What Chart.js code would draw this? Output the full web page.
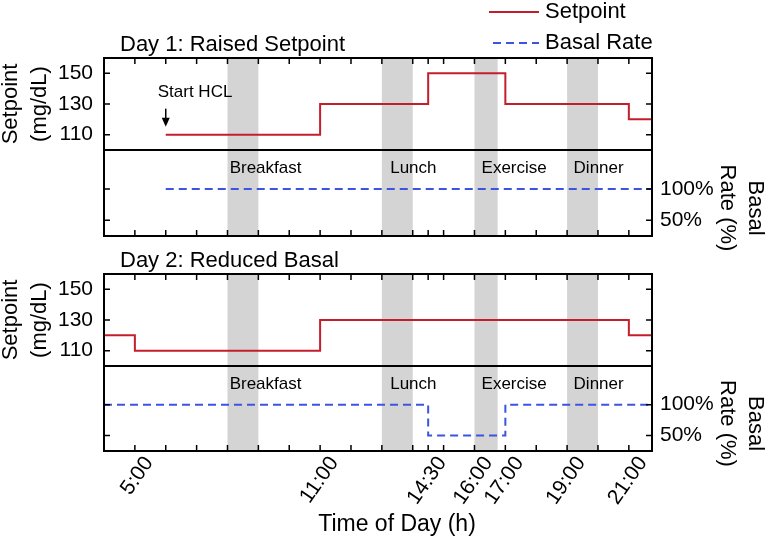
<!DOCTYPE html>
<html><head><meta charset="utf-8">
<script src="https://cdn.jsdelivr.net/npm/chart.js@4/dist/chart.umd.min.js"></script>
<style>html,body{margin:0;padding:0;background:#fff}canvas{display:block}</style>
</head><body>
<canvas id="c" width="771" height="544"></canvas>
<script>
// ---------- data ----------
const xMin = 4, xMax = 21.75;
const xTickValues = [5, 11, 14.5, 16, 17, 19, 21];
const xTickLabels = ['5:00', '11:00', '14:30', '16:00', '17:00', '19:00', '21:00'];
const setTickValues = [110, 130, 150];
const basalTickValues = [50, 100];
const basalTickLabels = ['50%', '100%'];

const day1SetTimes = [6, 11, 14.5, 17, 21, 21.75];
const day1SetValues = [110, 130, 150, 130, 120, 120];
const day1BasalTimes = [6, 21.75];
const day1BasalValues = [100, 100];

const day2SetTimes = [4, 5, 11, 21, 21.75];
const day2SetValues = [120, 110, 130, 120, 120];
const day2BasalTimes = [4, 14.5, 17, 21.75];
const day2BasalValues = [100, 50, 100, 100];

const eventNames = ['Breakfast', 'Lunch', 'Exercise', 'Dinner'];
const eventStart = [8, 13, 16, 19];
const eventEnd = [9, 14, 16.75, 20];
const eventLabelTime = [8.07, 13.27, 16.23, 19.21];

const hclStart = 6, hclValue = 110;
const dayTitles = ['Day 1: Raised Setpoint', 'Day 2: Reduced Basal'];
const xTitle = 'Time of Day (h)';

// ---------- style ----------
const FONT = "'Liberation Sans', Arial, Helvetica, sans-serif";
const RED = '#c41e2c';
const BLUE = '#3b55e0';
const GRAY = '#d4d4d4';

const pts = (xs, ys) => xs.map((x, i) => ({x, y: ys[i]}));

const minorTicks = [];
for (let h = 5; h <= 21; h++) minorTicks.push(h);
xTickValues.forEach(v => { if (!minorTicks.includes(v)) minorTicks.push(v); });

const days = [
  {set: 'ySet1', bas: 'yBas1', title: dayTitles[0]},
  {set: 'ySet2', bas: 'yBas2', title: dayTitles[1]}
];

const panelPlugin = {
  id: 'panels',
  beforeDatasetsDraw(chart) {
    const {ctx} = chart;
    const x = chart.scales.x;
    ctx.save();
    ctx.fillStyle = GRAY;
    for (const d of days) {
      const top = chart.scales[d.set].top, bottom = chart.scales[d.bas].bottom;
      for (let i = 0; i < eventStart.length; i++) {
        const x0 = x.getPixelForValue(eventStart[i]);
        const x1 = x.getPixelForValue(eventEnd[i]);
        ctx.fillRect(x0, top, x1 - x0, bottom - top);
      }
    }
    ctx.fillStyle = '#000';
    ctx.font = `17px ${FONT}`;
    ctx.textBaseline = 'middle';
    ctx.textAlign = 'left';
    for (const d of days) {
      const y = chart.scales[d.bas].top + 18;
      eventNames.forEach((n, i) => ctx.fillText(n, x.getPixelForValue(eventLabelTime[i]), y));
    }
    ctx.restore();
  },
  afterDatasetsDraw(chart) {
    const {ctx, chartArea} = chart;
    const x = chart.scales.x;
    const L = chartArea.left, R = chartArea.right;
    const TL = 6;
    ctx.save();
    ctx.strokeStyle = '#000';
    for (const d of days) {
      const ys = chart.scales[d.set], yb = chart.scales[d.bas];
      const top = ys.top, mid = ys.bottom, bottom = yb.bottom;
      ctx.lineWidth = 2;
      ctx.strokeRect(L, top, R - L, bottom - top);
      ctx.beginPath(); ctx.moveTo(L, mid); ctx.lineTo(R, mid); ctx.stroke();
      ctx.lineWidth = 1.5;
      ctx.beginPath();
      for (const t of minorTicks) {
        const px = x.getPixelForValue(t);
        ctx.moveTo(px, top); ctx.lineTo(px, top + TL);
        ctx.moveTo(px, bottom); ctx.lineTo(px, bottom - TL);
      }
      for (const v of setTickValues) {
        const py = ys.getPixelForValue(v);
        ctx.moveTo(L, py); ctx.lineTo(L + TL, py);
        ctx.moveTo(R, py); ctx.lineTo(R - TL, py);
      }
      for (const v of basalTickValues) {
        const py = yb.getPixelForValue(v);
        ctx.moveTo(L, py); ctx.lineTo(L + TL, py);
        ctx.moveTo(R, py); ctx.lineTo(R - TL, py);
      }
      ctx.stroke();

      // day title
      ctx.fillStyle = '#000';
      ctx.font = `22px ${FONT}`;
      ctx.textAlign = 'left';
      ctx.textBaseline = 'alphabetic';
      ctx.fillText(d.title, L + 16, top - 7.5);

      // right axis title
      const cy = (yb.top + yb.bottom) / 2 + 15;
      ctx.save();
      ctx.translate(R + 103.5, cy);
      ctx.rotate(Math.PI / 2);
      ctx.textAlign = 'center';
      ctx.textBaseline = 'middle';
      ctx.fillText('Basal', 0, 0);
      ctx.fillText('Rate (%)', 0, 28.5);
      ctx.restore();
    }

    // x axis title
    ctx.font = `23px ${FONT}`;
    ctx.textAlign = 'center';
    ctx.textBaseline = 'middle';
    ctx.fillText(xTitle, (L + R) / 2 + 19, chartArea.bottom + 74);

    // Start HCL annotation
    const ys1 = chart.scales.ySet1;
    const ax = x.getPixelForValue(hclStart);
    const ay = ys1.getPixelForValue(hclValue);
    ctx.fillStyle = '#000';
    ctx.font = `17px ${FONT}`;
    ctx.textAlign = 'left';
    ctx.textBaseline = 'alphabetic';
    ctx.fillText('Start HCL', ax - 8, ay - 38);
    ctx.lineWidth = 1.5;
    ctx.beginPath(); ctx.moveTo(ax, ay - 26); ctx.lineTo(ax, ay - 14); ctx.stroke();
    ctx.beginPath();
    ctx.moveTo(ax, ay - 8); ctx.lineTo(ax - 4, ay - 17); ctx.lineTo(ax + 4, ay - 17);
    ctx.closePath(); ctx.fill();

    // legend
    const lx0 = 489, lx1 = 539;
    ctx.lineWidth = 2;
    ctx.strokeStyle = RED;
    ctx.beginPath(); ctx.moveTo(lx0, 12); ctx.lineTo(lx1, 12); ctx.stroke();
    ctx.strokeStyle = BLUE;
    ctx.setLineDash([8, 5]);
    ctx.beginPath(); ctx.moveTo(lx0 + 4, 43); ctx.lineTo(lx1, 43); ctx.stroke();
    ctx.setLineDash([]);
    ctx.fillStyle = '#000';
    ctx.font = `22px ${FONT}`;
    ctx.textBaseline = 'middle';
    ctx.fillText('Setpoint', 545, 12);
    ctx.fillText('Basal Rate', 545, 43);
    ctx.restore();
  }
};

const tickFont = {family: FONT, size: 21};
const hideTicks = {display: false};
const noGrid = {display: false, drawTicks: false};
function yScale(position, stack, stackWeight, weight, min, max, extra) {
  return Object.assign({
    type: 'linear', position, stack, stackWeight, weight, min, max,
    grid: noGrid, border: {display: false},
    ticks: hideTicks,
    afterFit: s => { s.width = position === 'left' ? 104 : 119; }
  }, extra || {});
}
const setLabelAxis = {
  afterBuildTicks: s => { s.ticks = setTickValues.map(v => ({value: v})); },
  ticks: {display: true, padding: 11, color: '#000', font: tickFont, callback: v => String(v)},
  title: {display: true, text: ['Setpoint', '(mg/dL)'], color: '#000',
          font: {family: FONT, size: 22, lineHeight: 1.3}, padding: {top: -3, bottom: 0}}
};
const basLabelAxis = {
  afterBuildTicks: s => { s.ticks = basalTickValues.map(v => ({value: v})); },
  ticks: {display: true, padding: 8, color: '#000', font: tickFont,
          callback: v => basalTickLabels[basalTickValues.indexOf(v)]}
};

new Chart(document.getElementById('c'), {
  type: 'line',
  data: {
    datasets: [
      {label: 'Setpoint', data: pts(day1SetTimes, day1SetValues), xAxisID: 'x', yAxisID: 'ySet1',
       borderColor: RED, borderWidth: 2, stepped: 'before', pointRadius: 0, fill: false},
      {label: 'Basal Rate', data: pts(day1BasalTimes, day1BasalValues), xAxisID: 'x', yAxisID: 'yBas1',
       borderColor: BLUE, borderWidth: 2, borderDash: [8, 5], stepped: 'before', pointRadius: 0, fill: false},
      {label: 'Setpoint', data: pts(day2SetTimes, day2SetValues), xAxisID: 'x', yAxisID: 'ySet2',
       borderColor: RED, borderWidth: 2, stepped: 'before', pointRadius: 0, fill: false},
      {label: 'Basal Rate', data: pts(day2BasalTimes, day2BasalValues), xAxisID: 'x', yAxisID: 'yBas2',
       borderColor: BLUE, borderWidth: 2, borderDash: [8, 5], stepped: 'before', pointRadius: 0, fill: false}
    ]
  },
  options: {
    responsive: false,
    animation: false,
    devicePixelRatio: 1,
    layout: {padding: {top: 58, left: 0, right: 0, bottom: 0}},
    plugins: {legend: {display: false}, tooltip: {enabled: false}},
    scales: {
      x: {
        type: 'linear', position: 'bottom', min: xMin, max: xMax,
        grid: noGrid, border: {display: false},
        afterBuildTicks: s => { s.ticks = xTickValues.map(v => ({value: v})); },
        ticks: {autoSkip: false, minRotation: 55, maxRotation: 55, padding: 1, labelOffset: 14,
                color: '#000', font: tickFont,
                callback: v => xTickLabels[xTickValues.indexOf(v)]},
        title: {display: false},
        afterFit: s => { s.height = 93; }
      },
      ySet1: yScale('left', 'L', 92, 5, 100, 160, setLabelAxis),
      yBas1L: yScale('left', 'L', 86, 4, 25, 162.5),
      gapL: yScale('left', 'L', 38, 3, 0, 1),
      ySet2: yScale('left', 'L', 92, 2, 100, 160, setLabelAxis),
      yBas2L: yScale('left', 'L', 85, 1, 25, 162.5),
      ySet1R: yScale('right', 'R', 92, 1, 100, 160),
      yBas1: yScale('right', 'R', 86, 2, 25, 162.5, basLabelAxis),
      gapR: yScale('right', 'R', 38, 3, 0, 1),
      ySet2R: yScale('right', 'R', 92, 4, 100, 160),
      yBas2: yScale('right', 'R', 85, 5, 25, 162.5, basLabelAxis)
    }
  },
  plugins: [panelPlugin]
});
</script>
</body></html>
